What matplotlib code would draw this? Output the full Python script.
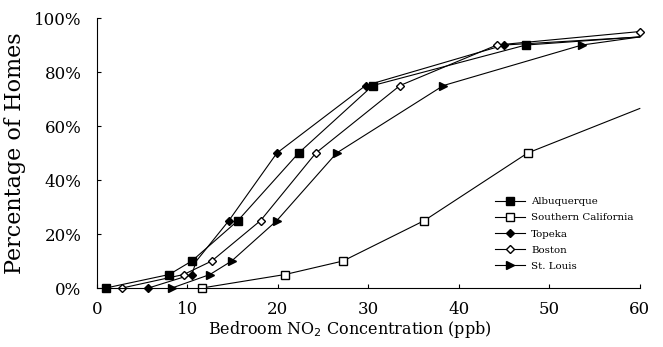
import matplotlib
matplotlib.use("Agg")
import matplotlib.pyplot as plt

# bedroom NO2 (ppb) vs cumulative percentage of homes
alb_x = [1, 8, 10.5, 15.6, 22.3, 30.5, 47.4, 60]
alb_y = [0, 5, 10, 25, 50, 75, 90, 93]
socal_x = [11.6, 20.8, 27.2, 36.2, 47.6, 60]
socal_y = [0, 5, 10, 25, 50, 66.5]
top_x = [5.7, 10.5, 11.0, 14.6, 19.9, 29.7, 45.0, 60]
top_y = [0, 5, 10, 25, 50, 75, 90, 93]
bos_x = [2.8, 9.6, 12.7, 18.1, 24.2, 33.5, 44.2, 60]
bos_y = [0, 5, 10, 25, 50, 75, 90, 95]
stl_x = [8.3, 12.5, 14.9, 19.9, 26.5, 38.3, 53.6, 60]
stl_y = [0, 5, 10, 25, 50, 75, 90, 93]

x_ticks = [0, 10, 20, 30, 40, 50, 60]
y_ticks = [0, 20, 40, 60, 80, 100]

plt.rcParams["font.family"] = ["DejaVu Serif"]

fig = plt.figure(figsize=(6.63, 3.47), dpi=100)
ax = fig.add_axes([0.146, 0.170, 0.819, 0.778])

kw = dict(color="black", lw=0.8, clip_on=False)
# last points (at 60 ppb) carry no marker in the original
ax.plot(alb_x, alb_y, marker="s", ms=5.5, mfc="black", markevery=list(range(len(alb_x) - 1)),
        label="Albuquerque", **kw)
ax.plot(socal_x, socal_y, marker="s", ms=5.5, mfc="white", markevery=list(range(len(socal_x) - 1)),
        label="Southern California", **kw)
ax.plot(top_x, top_y, marker="D", ms=4.5, mfc="black", markevery=[0, 1, 3, 4, 5, 6],
        label="Topeka", **kw)
ax.plot(bos_x, bos_y, marker="D", ms=4.5, mfc="white", label="Boston", **kw)
ax.plot(stl_x, stl_y, marker=">", ms=6, mfc="black", markevery=list(range(len(stl_x) - 1)),
        label="St. Louis", **kw)

ax.set_xlim(0, 60)
ax.set_ylim(0, 100)
ax.set_xticks(x_ticks)
ax.set_yticks(y_ticks)
ax.set_yticklabels([f"{v}%" for v in y_ticks])
ax.tick_params(direction="in", length=3, width=0.8, labelsize=12)
ax.tick_params(axis="x", pad=9)
ax.tick_params(axis="y", pad=11)
ax.spines["top"].set_visible(False)
ax.spines["right"].set_visible(False)
ax.spines["left"].set_linewidth(0.8)
ax.spines["bottom"].set_linewidth(0.8)

ax.set_xlabel("Bedroom NO$_2$ Concentration (ppb)", fontsize=11.5, labelpad=1)
ax.xaxis.label.set_x(0.466)  # the original label sits a bit left of centre
ax.set_ylabel("Percentage of Homes", fontsize=16, labelpad=6)

ax.legend(loc="lower right", bbox_to_anchor=(1.0, 0.04), frameon=False, fontsize=7.4,
          handlelength=2.9, handletextpad=0.6, labelspacing=0.68, borderaxespad=0.2)

fig.savefig("out.png", dpi=100)
